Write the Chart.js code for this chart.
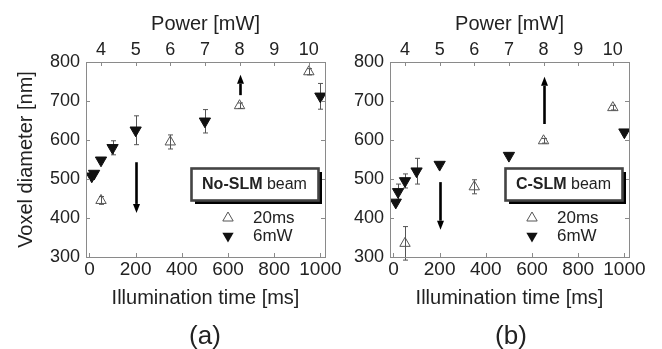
<!DOCTYPE html>
<html>
<head>
<meta charset="utf-8">
<script src="https://cdn.jsdelivr.net/npm/chart.js@4.4.1/dist/chart.umd.min.js"></script>
<style>
  html, body { margin: 0; padding: 0; background: #fff; }
  #wrap { position: relative; width: 662px; height: 349px; overflow: hidden; }
  canvas { position: absolute; top: 0; }
  #chartA { left: 0; }
  #chartB { left: 331px; }
  .tag {
    position: absolute; top: 320px; line-height: 30px;
    font: 26px "Liberation Sans", Arial, sans-serif; color: #222;
    transform: translateX(-50%);
  }
</style>
</head>
<body>
<div id="wrap">
  <canvas id="chartA" width="345" height="349"></canvas>
  <canvas id="chartB" width="331" height="349"></canvas>
  <div class="tag" style="left:205px">(a)</div>
  <div class="tag" style="left:511px">(b)</div>
</div>
<script>
const FONT = '"Liberation Sans", Arial, sans-serif';
const TEXT = "#222";
const FRAME = "#8a8a8a";

// time axis range [ms]; the power axis on top is tied to it (5 mW = 200 ms, 150 ms per mW)
const T_MIN = -15;
const T_MAX = 1020;
const DIAM_MIN = 300;
const DIAM_MAX = 800;
const timeTicks = [0, 200, 400, 600, 800, 1000];
const powerTicks = [4, 5, 6, 7, 8, 9, 10];
const diamTicks = [300, 400, 500, 600, 700, 800];

function powerAt(t) {
  return 5 + (t - 200) / 150;
}

// (a) No-SLM beam
const aPower20ms = [4, 6, 8, 10];
const aDiam20ms = [445, 595, 688, 775];
const aErr20ms = [10, 18, 7, 8];
const aTime6mW = [10, 20, 50, 100, 200, 500, 1000];
const aDiam6mW = [507, 514, 548, 580, 625, 648, 712];
const aErr6mW = [0, 0, 0, 18, 37, 30, 33];
const aArrowPower = [5, 8];
const aArrowFrom = [543, 715];
const aArrowTo = [413, 767];

// (b) C-SLM beam
const bPower20ms = [4, 6, 8, 10];
const bDiam20ms = [335, 480, 598, 683];
const bErr20ms = [43, 18, 6, 6];
const bTime6mW = [10, 20, 50, 100, 200, 500, 1000];
const bDiam6mW = [440, 467, 495, 520, 537, 560, 620];
const bErr6mW = [0, 20, 18, 33, 0, 0, 0];
const bArrowPower = [5, 8];
const bArrowFrom = [492, 641];
const bArrowTo = [370, 762];

function toPoints(xs, ys) {
  return xs.map((x, i) => ({ x, y: ys[i] }));
}

function fixedTicks(values) {
  return (s) => { s.ticks = values.map((value) => ({ value })); };
}

function triangle(ctx, x, y, r, down) {
  const s = down ? -1 : 1;
  ctx.beginPath();
  ctx.moveTo(x, y - s * r);
  ctx.lineTo(x + r * 0.866, y + s * r * 0.5);
  ctx.lineTo(x - r * 0.866, y + s * r * 0.5);
  ctx.closePath();
}

function drawArrow(ctx, x, y0, y1) {
  const dir = Math.sign(y1 - y0);
  const head = 9;
  ctx.strokeStyle = "#000";
  ctx.fillStyle = "#000";
  ctx.lineWidth = 2.6;
  ctx.beginPath();
  ctx.moveTo(x, y0);
  ctx.lineTo(x, y1 - dir * head);
  ctx.stroke();
  ctx.beginPath();
  ctx.moveTo(x, y1);
  ctx.lineTo(x - 3.5, y1 - dir * head);
  ctx.lineTo(x + 3.5, y1 - dir * head);
  ctx.closePath();
  ctx.fill();
}

const figurePlugin = {
  id: "figure",
  beforeDatasetsDraw(chart) {
    // error bars behind the markers
    const ctx = chart.ctx;
    ctx.save();
    ctx.strokeStyle = "#555";
    ctx.lineWidth = 1;
    chart.data.datasets.forEach((ds, i) => {
      const meta = chart.getDatasetMeta(i);
      const yScale = chart.scales[meta.yAxisID];
      (ds.errors || []).forEach((e, j) => {
        if (!e) return;
        const x = Math.round(meta.data[j].x) + 0.5;
        const top = yScale.getPixelForValue(ds.data[j].y + e);
        const bot = yScale.getPixelForValue(ds.data[j].y - e);
        ctx.beginPath();
        ctx.moveTo(x, top);
        ctx.lineTo(x, bot);
        ctx.moveTo(x - 2.5, top);
        ctx.lineTo(x + 2.5, top);
        ctx.moveTo(x - 2.5, bot);
        ctx.lineTo(x + 2.5, bot);
        ctx.stroke();
      });
    });
    ctx.restore();
  },
  afterDatasetsDraw(chart, args, opts) {
    const ctx = chart.ctx;
    const a = chart.chartArea;
    const { x, x2, y } = chart.scales;
    ctx.save();

    // frame with inward ticks
    ctx.strokeStyle = FRAME;
    ctx.lineWidth = 1;
    ctx.strokeRect(Math.round(a.left) + 0.5, Math.round(a.top) + 0.5,
      Math.round(a.right - a.left), Math.round(a.bottom - a.top));
    const tl = 4;
    ctx.beginPath();
    x.ticks.forEach((t) => {
      const px = Math.round(x.getPixelForValue(t.value)) + 0.5;
      ctx.moveTo(px, a.bottom);
      ctx.lineTo(px, a.bottom - tl);
    });
    x2.ticks.forEach((t) => {
      const px = Math.round(x2.getPixelForValue(t.value)) + 0.5;
      ctx.moveTo(px, a.top);
      ctx.lineTo(px, a.top + tl);
    });
    y.ticks.forEach((t) => {
      const py = Math.round(y.getPixelForValue(t.value)) + 0.5;
      ctx.moveTo(a.left, py);
      ctx.lineTo(a.left + tl, py);
      ctx.moveTo(a.right, py);
      ctx.lineTo(a.right - tl, py);
    });
    ctx.stroke();

    // arrows
    opts.arrowPower.forEach((p, i) => {
      drawArrow(ctx, Math.round(x2.getPixelForValue(p)) + 0.5,
        y.getPixelForValue(opts.arrowFrom[i]), y.getPixelForValue(opts.arrowTo[i]));
    });

    // legend box with drop shadow
    ctx.font = "bold 16px " + FONT;
    const wb = ctx.measureText(opts.bold).width;
    ctx.font = "16px " + FONT;
    const wr = ctx.measureText(opts.rest).width;
    const w = Math.round(wb + wr + 22);
    const h = 32;
    const bx = Math.round(a.right - 7 - w);
    const by = Math.round(a.top + 106);
    ctx.fillStyle = "#000";
    ctx.fillRect(bx + 4, by + 4, w, h);
    ctx.fillStyle = "#fff";
    ctx.fillRect(bx, by, w, h);
    ctx.strokeStyle = "#444";
    ctx.strokeRect(bx + 0.5, by + 0.5, w, h);
    ctx.fillStyle = TEXT;
    ctx.textBaseline = "middle";
    ctx.textAlign = "left";
    const tx = bx + (w - wb - wr) / 2;
    ctx.font = "bold 16px " + FONT;
    ctx.fillText(opts.bold, tx, by + h / 2 + 1);
    ctx.font = "16px " + FONT;
    ctx.fillText(opts.rest, tx + wb, by + h / 2 + 1);

    // legend entries
    const mx = a.right - 97;
    const lx = a.right - 72;
    const y1 = a.top + 156;
    const y2 = a.top + 174;
    triangle(ctx, mx, y1, 6, false);
    ctx.strokeStyle = "#555";
    ctx.lineWidth = 1;
    ctx.stroke();
    triangle(ctx, mx, y2, 6.5, true);
    ctx.fillStyle = "#111";
    ctx.fill();
    ctx.fillStyle = TEXT;
    ctx.font = "17px " + FONT;
    ctx.fillText("20ms", lx, y1);
    ctx.fillText("6mW", lx, y2);
    ctx.restore();
  },
};

function makeChart(id, cfg) {
  const tickFont = (size) => ({ family: FONT, size, lineHeight: 1 });
  const noGrid = { display: false, drawTicks: false };
  const plain = (v) => String(v);
  const ctx = document.getElementById(id).getContext("2d");
  return new Chart(ctx, {
    type: "scatter",
    data: {
      datasets: [
        {
          label: "20ms",
          xAxisID: "x2",
          yAxisID: "y",
          data: toPoints(cfg.power20ms, cfg.diam20ms),
          errors: cfg.err20ms,
          pointStyle: "triangle",
          pointRadius: 6,
          backgroundColor: "rgba(0,0,0,0)",
          borderColor: "#555",
          borderWidth: 1,
        },
        {
          label: "6mW",
          xAxisID: "x",
          yAxisID: "y",
          data: toPoints(cfg.time6mW, cfg.diam6mW),
          errors: cfg.err6mW,
          pointStyle: "triangle",
          pointRotation: 180,
          pointRadius: 6.5,
          backgroundColor: "#111",
          borderColor: "#111",
          borderWidth: 1,
        },
      ],
    },
    options: {
      responsive: false,
      animation: false,
      events: [],
      layout: { padding: 0 },
      plugins: {
        legend: { display: false },
        tooltip: { enabled: false },
        figure: {
          arrowPower: cfg.arrowPower,
          arrowFrom: cfg.arrowFrom,
          arrowTo: cfg.arrowTo,
          bold: cfg.bold,
          rest: " beam",
        },
      },
      scales: {
        x: {
          type: "linear",
          axis: "x",
          position: "bottom",
          min: T_MIN,
          max: T_MAX,
          grid: noGrid,
          border: { display: false },
          afterBuildTicks: fixedTicks(timeTicks),
          ticks: {
            autoSkip: false, maxRotation: 0, callback: plain,
            padding: 3, color: TEXT, font: tickFont(19),
          },
          title: {
            display: true, text: "Illumination time [ms]", color: TEXT,
            font: tickFont(20), padding: { top: 0, bottom: 41 },
          },
          afterFit(s) { s.height = 92; s.paddingLeft = 0; s.paddingRight = 0; },
        },
        x2: {
          type: "linear",
          axis: "x",
          position: "top",
          min: powerAt(T_MIN),
          max: powerAt(T_MAX),
          grid: noGrid,
          border: { display: false },
          afterBuildTicks: fixedTicks(powerTicks),
          ticks: {
            autoSkip: false, maxRotation: 0, callback: plain,
            padding: 3, color: TEXT, font: tickFont(18),
          },
          title: {
            display: true, text: "Power [mW]", color: TEXT,
            font: tickFont(20), padding: { top: 14, bottom: 0 },
          },
          afterFit(s) { s.height = 62; s.paddingLeft = 0; s.paddingRight = 0; },
        },
        y: {
          type: "linear",
          axis: "y",
          position: "left",
          min: DIAM_MIN,
          max: DIAM_MAX,
          grid: noGrid,
          border: { display: false },
          afterBuildTicks: fixedTicks(diamTicks),
          ticks: { callback: plain, padding: 6, color: TEXT, font: tickFont(18) },
          title: {
            display: cfg.yTitle, text: "Voxel diameter [nm]", color: TEXT,
            font: tickFont(20), padding: { top: 16, bottom: 0 },
          },
          afterFit(s) { s.width = cfg.leftWidth; },
        },
        y2: {
          type: "linear",
          axis: "y",
          position: "right",
          min: DIAM_MIN,
          max: DIAM_MAX,
          grid: noGrid,
          border: { display: false },
          ticks: { display: false },
          afterFit(s) { s.width = cfg.rightWidth; },
        },
      },
    },
    plugins: [figurePlugin],
  });
}

makeChart("chartA", {
  leftWidth: 86, rightWidth: 20, yTitle: true, bold: "No-SLM",
  power20ms: aPower20ms, diam20ms: aDiam20ms, err20ms: aErr20ms,
  time6mW: aTime6mW, diam6mW: aDiam6mW, err6mW: aErr6mW,
  arrowPower: aArrowPower, arrowFrom: aArrowFrom, arrowTo: aArrowTo,
});

makeChart("chartB", {
  leftWidth: 59, rightWidth: 33, yTitle: false, bold: "C-SLM",
  power20ms: bPower20ms, diam20ms: bDiam20ms, err20ms: bErr20ms,
  time6mW: bTime6mW, diam6mW: bDiam6mW, err6mW: bErr6mW,
  arrowPower: bArrowPower, arrowFrom: bArrowFrom, arrowTo: bArrowTo,
});
</script>
</body>
</html>
